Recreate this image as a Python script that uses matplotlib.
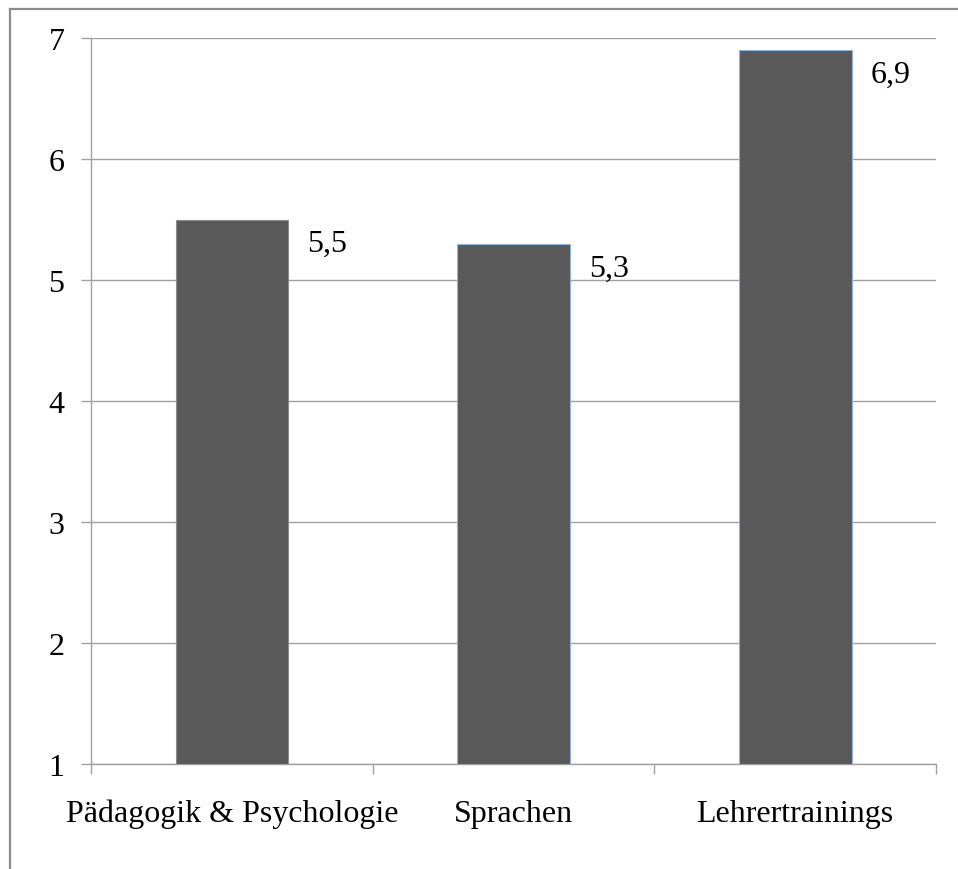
import numpy as np
import matplotlib.pyplot as plt
from matplotlib.lines import Line2D

# data
categories = ['Pädagogik & Psychologie', 'Sprachen', 'Lehrertrainings']
values = [5.5, 5.3, 6.9]
labels = ['5,5', '5,3', '6,9']
yticks = [1, 2, 3, 4, 5, 6, 7]

plt.rcParams['font.family'] = ['Liberation Serif', 'DejaVu Serif']

fig = plt.figure(figsize=(9.58, 8.7), dpi=100)
ax = fig.add_axes([91/958, 1-765/870, (936-91)/958, (765-39)/870])

# outer chart frame (only left and top visible)
fig.add_artist(Line2D([10/958, 10/958], [0, 1-9.5/870], color='#8c8c8c', lw=1.6,
                      transform=fig.transFigure))
fig.add_artist(Line2D([10/958, 1], [1-9.5/870, 1-9.5/870], color='#8c8c8c', lw=1.6,
                      transform=fig.transFigure))

x = np.arange(len(categories))
edges = ['#8c8c8c', '#8eb4e3', '#8eb4e3']
bars = ax.bar(x, np.array(values) - 1, bottom=1, width=0.4, color='#595959',
              edgecolor=edges, linewidth=0.8, zorder=3)

# value labels, right of bar top
for xi, v, lab in zip(x, values, labels):
    ax.annotate(lab, (xi + 0.2, v), xytext=(14, -7), textcoords='offset points',
                ha='left', va='top', fontsize=23, color='black')

ax.set_xlim(-0.5, 2.5)
ax.set_ylim(1, 7)
ax.set_yticks(yticks)
ax.set_yticklabels([str(t) for t in yticks], fontsize=23)
ax.yaxis.grid(True, color='#a0a0a0', lw=1.0, zorder=0)

# category boundaries as ticks
ax.set_xticks([-0.5, 0.5, 1.5, 2.5])
ax.set_xticklabels([])
ax.set_xticks(x, minor=True)
ax.set_xticklabels(categories, minor=True, fontsize=23)
ax.tick_params(axis='x', which='minor', length=0, pad=25)
ax.tick_params(axis='x', which='major', length=7, width=1, color='#a0a0a0', direction='out')
ax.tick_params(axis='y', length=7, width=1, color='#a0a0a0', pad=12)

for s in ['top', 'right']:
    ax.spines[s].set_visible(False)
for s in ['left', 'bottom']:
    ax.spines[s].set_color('#a0a0a0')
    ax.spines[s].set_linewidth(1.0)

fig.savefig('out.png', dpi=100)
